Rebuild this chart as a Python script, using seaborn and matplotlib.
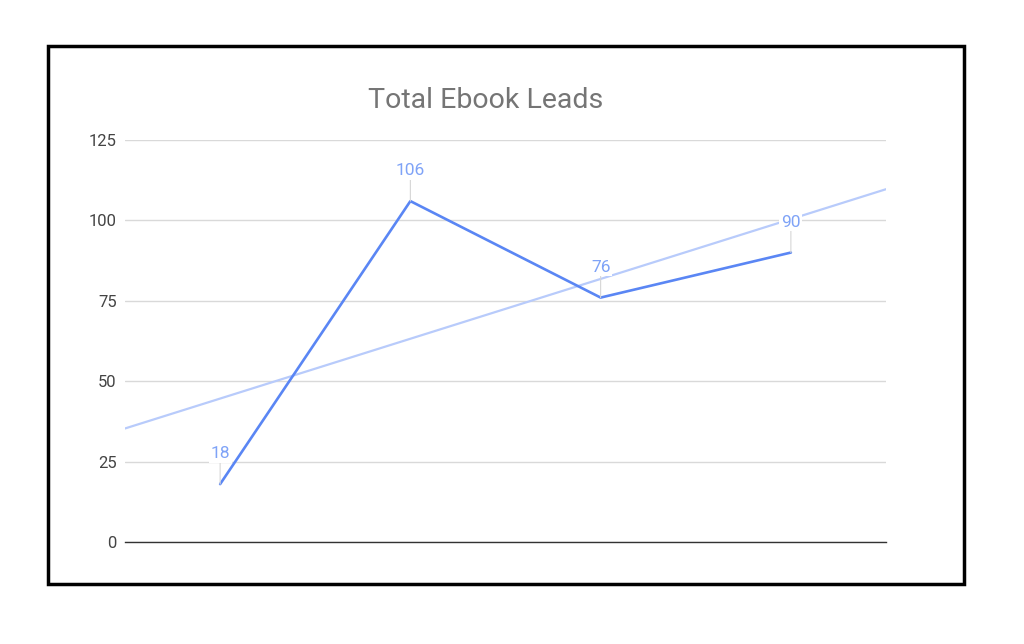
import numpy as np
import pandas as pd
import seaborn as sns
import matplotlib.pyplot as plt
from matplotlib.patches import Rectangle

# =====================================#
# DATA
# =====================================#
periods = [0, 1, 2, 3]
leads = [18, 106, 76, 90]
y_ticks = [0, 25, 50, 75, 100, 125]
title = "Total Ebook Leads"

line_color = "#5a86f4"
trend_color = "#b8cbfb"
label_color = "#7fa3f7"

# =====================================#
# PLOT
# =====================================#
sns.set_style("white")
plt.rcParams["font.family"] = ["Roboto", "DejaVu Sans"]

df = pd.DataFrame({"period": periods, "leads": leads})

fig = plt.figure(figsize=(10.24, 6.44), dpi=100)
ax = fig.add_axes([125 / 1024, 102 / 644, 761 / 1024, 402 / 644])

# linear trendline over the whole x range
slope, intercept = np.polyfit(df["period"], df["leads"], 1)
x_trend = np.array([-0.5, 3.5])
ax.plot(x_trend, slope * x_trend + intercept, color=trend_color, linewidth=1.6, zorder=2)

sns.lineplot(data=df, x="period", y="leads", ax=ax, color=line_color, linewidth=1.9, zorder=3)

for x, y in zip(df["period"], df["leads"]):
	ax.annotate(
		f"{y}",
		xy=(x, y),
		xytext=(0, 22),
		textcoords="offset points",
		ha="center",
		va="center",
		fontsize=12.5,
		color=label_color,
		bbox=dict(boxstyle="square,pad=0.1", fc="white", ec="none"),
		arrowprops=dict(arrowstyle="-", color="#d6d6d6", lw=0.8, shrinkA=0, shrinkB=0),
		zorder=4,
	)

ax.set_xlim(-0.5, 3.5)
ax.set_ylim(0, 125)
ax.set_yticks(y_ticks)
ax.set_yticklabels([str(t) for t in y_ticks], fontsize=12, color="#444444")
ax.set_xticks([])
ax.set_xlabel("")
ax.set_ylabel("")
ax.tick_params(axis="y", length=0, pad=6)
ax.grid(axis="y", color="#d9d9d9", linewidth=1)
ax.set_axisbelow(True)
for side in ["top", "right", "left"]:
	ax.spines[side].set_visible(False)
ax.spines["bottom"].set_color("#333333")
ax.spines["bottom"].set_linewidth(1)

fig.text(486 / 1024, 1 - 100 / 644, title, ha="center", va="center", fontsize=20.5, color="#757575")

# black frame round the chart
fig.patches.append(Rectangle((48 / 1024, 60 / 644), 916 / 1024, 538 / 644, transform=fig.transFigure,
	fill=False, edgecolor="black", linewidth=2.5))

plt.savefig("out.png", dpi=100)
